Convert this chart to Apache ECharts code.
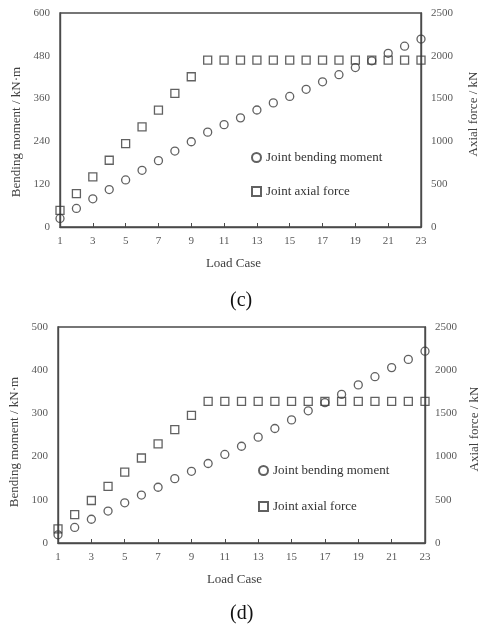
<!DOCTYPE html>
<html>
<head>
<meta charset="utf-8">
<script src="https://cdn.jsdelivr.net/npm/echarts@6/dist/echarts.min.js"></script>
<style>
  html, body { margin: 0; padding: 0; background: #fff; }
  #main { width: 478px; height: 628px; }
</style>
</head>
<body>
<div id="main"></div>
<script>
// load cases
var loadCases = ['1','2','3','4','5','6','7','8','9','10','11','12','13','14','15','16','17','18','19','20','21','22','23'];

// (c) bending moment kN·m (left axis) and axial force kN (right axis)
var momentC = [24, 52, 79, 105, 132, 159, 186, 213, 239, 266, 287, 306, 328, 348, 366, 386, 407, 427, 447, 466, 487, 507, 527];
var axialC = [195, 390, 585, 780, 975, 1170, 1365, 1560, 1755, 1950, 1950, 1950, 1950, 1950, 1950, 1950, 1950, 1950, 1950, 1950, 1950, 1950, 1950];

// (d)
var momentD = [19, 36, 55, 74, 93, 111, 129, 149, 166, 184, 205, 224, 245, 265, 285, 306, 325, 344, 366, 385, 406, 425, 444];
var axialD = [164, 328, 492, 656, 820, 984, 1148, 1312, 1476, 1640, 1640, 1640, 1640, 1640, 1640, 1640, 1640, 1640, 1640, 1640, 1640, 1640, 1640];

var serif = '"Liberation Serif", "Times New Roman", serif';
var lineCol = '#4a4a4a';
var labelCol = '#595959';
var nameCol = '#404040';

var myChart = echarts.init(document.getElementById('main'));

function xAxisOf(idx) {
	return {
		type: 'category',
		gridIndex: idx,
		data: loadCases,
		boundaryGap: false,
		name: 'Load Case',
		nameLocation: 'middle',
		nameGap: 30,
		nameTextStyle: { fontFamily: serif, fontSize: 13, color: nameCol, padding: [0, 14, 0, 0] },
		axisLine: { lineStyle: { color: lineCol, width: 1.4 } },
		axisTick: { show: true, inside: true, interval: 1, length: 4, lineStyle: { color: lineCol } },
		axisLabel: { interval: 1, margin: 9, fontFamily: serif, fontSize: 11, color: labelCol },
		splitLine: { show: false }
	};
}

function yAxisOf(idx, pos, max, interval, name, gap, pad) {
	return {
		type: 'value',
		gridIndex: idx,
		position: pos,
		min: 0,
		max: max,
		interval: interval,
		name: name,
		nameLocation: 'middle',
		nameGap: gap,
		nameTextStyle: { fontFamily: serif, fontSize: 13, color: nameCol, padding: pad },
		axisLine: { show: true, lineStyle: { color: lineCol, width: 1.4 } },
		axisTick: { show: false },
		axisLabel: {
			margin: 10, fontFamily: serif, fontSize: 11, color: labelCol,
			formatter: function (v) { return String(v); }
		},
		splitLine: { show: false }
	};
}

var circleStyle = { color: 'rgba(0,0,0,0)', borderColor: '#3a3a3a', borderWidth: 1.3 };
var squareStyle = { color: 'rgba(0,0,0,0)', borderColor: '#3a3a3a', borderWidth: 1.3 };

var option = {
	animation: false,
	backgroundColor: '#fff',
	title: [
		{ text: '(c)', left: 225, top: 286, padding: 5, textStyle: { fontFamily: serif, fontSize: 20, fontWeight: 'normal', color: '#111' } },
		{ text: '(d)', left: 225, top: 599, padding: 5, textStyle: { fontFamily: serif, fontSize: 20, fontWeight: 'normal', color: '#111' } }
	],
	grid: [
		{ left: 60, right: 57, top: 13, height: 214, outerBoundsMode: 'none', show: true, borderColor: lineCol, borderWidth: 1.4 },
		{ left: 58, right: 53, top: 327, height: 216, outerBoundsMode: 'none', show: true, borderColor: lineCol, borderWidth: 1.4 }
	],
	legend: [
		{
			orient: 'vertical', left: 251, top: 151, itemGap: 21, itemWidth: 9, itemHeight: 9,
			padding: 0,
			textStyle: { fontFamily: serif, fontSize: 13, color: '#333' },
			data: [{ name: 'Joint bending moment', icon: 'circle' }, { name: 'Joint axial force', icon: 'rect' }]
		},
		{
			orient: 'vertical', left: 258, top: 464, itemGap: 23, itemWidth: 9, itemHeight: 9,
			padding: 0,
			textStyle: { fontFamily: serif, fontSize: 13, color: '#333' },
			data: [{ name: 'Joint bending moment', icon: 'circle' }, { name: 'Joint axial force', icon: 'rect' }]
		}
	],
	xAxis: [xAxisOf(0), xAxisOf(1)],
	yAxis: [
		yAxisOf(0, 'left', 600, 120, 'Bending moment / kN·m', 37, [0, 24, 0, 0]),
		yAxisOf(0, 'right', 2500, 500, 'Axial force / kN', 46, [0, 0, 0, 12]),
		yAxisOf(1, 'left', 500, 100, 'Bending moment / kN·m', 35, [0, 14, 0, 0]),
		yAxisOf(1, 'right', 2500, 500, 'Axial force / kN', 42, [0, 0, 0, 12])
	],
	series: [
		{ name: 'Joint axial force', type: 'scatter', xAxisIndex: 0, yAxisIndex: 1, symbol: 'rect', symbolSize: 8, itemStyle: squareStyle, data: axialC },
		{ name: 'Joint bending moment', type: 'scatter', xAxisIndex: 0, yAxisIndex: 0, symbol: 'circle', symbolSize: 8, itemStyle: circleStyle, data: momentC },
		{ name: 'Joint axial force', type: 'scatter', xAxisIndex: 1, yAxisIndex: 3, symbol: 'rect', symbolSize: 8, itemStyle: squareStyle, data: axialD },
		{ name: 'Joint bending moment', type: 'scatter', xAxisIndex: 1, yAxisIndex: 2, symbol: 'circle', symbolSize: 8, itemStyle: circleStyle, data: momentD }
	]
};

option && myChart.setOption(option);
</script>
</body>
</html>
